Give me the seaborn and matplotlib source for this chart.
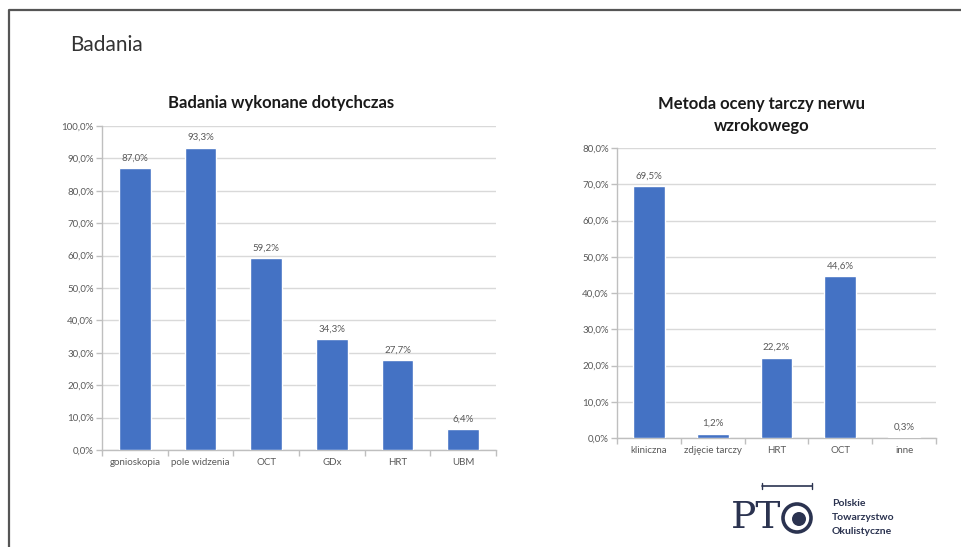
import matplotlib
matplotlib.use("Agg")
import matplotlib.pyplot as plt
from matplotlib.patches import Circle
from matplotlib.ticker import FixedLocator, FuncFormatter
import seaborn as sns
import pandas as pd

# Data
tests_categories = ["gonioskopia", "pole widzenia", "OCT", "GDx", "HRT", "UBM"]
tests_values = [87.0, 93.3, 59.2, 34.3, 27.7, 6.4]

disc_categories = ["kliniczna", "zdjęcie tarczy", "HRT", "OCT", "inne"]
disc_values = [69.5, 1.2, 22.2, 44.6, 0.3]

BLUE = "#4472C4"
GRID = "#d9d9d9"
AXIS = "#bfbfbf"
TICK_TXT = "#595959"

sns.set_theme(style="white")
plt.rcParams["font.family"] = ["Lato", "DejaVu Sans"]

W, H = 961, 547
fig = plt.figure(figsize=(W / 100, H / 100), dpi=100)
fig.patch.set_facecolor("white")


def px_axes(x0, y0, x1, y1):
    return fig.add_axes([x0 / W, 1 - y1 / H, (x1 - x0) / W, (y1 - y0) / H])


def pct(v, _=None):
    return f"{v:.1f}%".replace(".", ",")


def bar_chart(ax, cats, vals, ymax, bar_w):
    df = pd.DataFrame({"cat": cats, "val": vals})
    sns.barplot(data=df, x="cat", y="val", color=BLUE, width=bar_w,
                saturation=1, ax=ax, zorder=3)
    ax.set_ylim(0, ymax)
    ax.set_xlim(-0.5, len(cats) - 0.5)
    ax.set_xlabel("")
    ax.set_ylabel("")
    ax.yaxis.set_major_locator(FixedLocator(list(range(0, int(ymax) + 1, 10))))
    ax.yaxis.set_major_formatter(FuncFormatter(pct))
    ax.grid(axis="y", color=GRID, linewidth=1, zorder=0)
    ax.grid(axis="x", visible=False)
    for s in ("top", "right"):
        ax.spines[s].set_visible(False)
    for s in ("left", "bottom"):
        ax.spines[s].set_color(AXIS)
        ax.spines[s].set_linewidth(1)
    ax.tick_params(axis="y", which="major", length=4, width=1, color=AXIS,
                   labelsize=7, labelcolor=TICK_TXT, pad=2, left=True)
    ax.tick_params(axis="x", which="major", length=0, labelsize=7,
                   labelcolor=TICK_TXT, pad=6)
    ax.set_xticks([i - 0.5 for i in range(len(cats) + 1)], minor=True)
    ax.tick_params(axis="x", which="minor", length=4, width=1, color=AXIS,
                   bottom=True)
    for c in ax.containers:
        ax.bar_label(c, labels=[pct(v) for v in vals], padding=4,
                     fontsize=7, color=TICK_TXT)


# Left chart
ax1 = px_axes(102, 126, 496, 450)
bar_chart(ax1, tests_categories, tests_values, 100, 0.48)
fig.text(281 / W, 1 - 103 / H, "Badania wykonane dotychczas", ha="center",
         va="center", fontsize=12, fontweight="bold", color="#1a1a1a")

# Right chart
ax2 = px_axes(617, 148, 936, 438)
bar_chart(ax2, disc_categories, disc_values, 80, 0.5)
fig.text(762 / W, 1 - 115 / H, "Metoda oceny tarczy nerwu\nwzrokowego",
         ha="center", va="center", fontsize=12, fontweight="bold",
         color="#1a1a1a", linespacing=1.5)

# Slide heading
fig.text(70 / W, 1 - 45 / H, "Badania", ha="left", va="center",
         fontsize=15, fontweight="normal", color="#333333")

# Slide frame
frame = fig.add_axes([0, 0, 1, 1], zorder=-1)
frame.set_xlim(0, W)
frame.set_ylim(H, 0)
frame.axis("off")
frame.plot([9, 9, W], [H, 10, 10], color="#555555", linewidth=1.6,
           solid_capstyle="butt")

# Society logo
logo = fig.add_axes([0, 0, 1, 1], zorder=5)
logo.set_xlim(0, W)
logo.set_ylim(H, 0)
logo.axis("off")
NAVY = "#2b3350"
logo.text(731, 518, "PT", fontsize=27, family="DejaVu Serif", color=NAVY,
          ha="left", va="center")
logo.plot([762, 812], [486, 486], color=NAVY, linewidth=1.2)
logo.plot([762, 762], [483, 489], color=NAVY, linewidth=1.0)
logo.plot([812, 812], [483, 489], color=NAVY, linewidth=1.0)
logo.add_patch(Circle((797, 518), 14, fill=False, edgecolor=NAVY, linewidth=2.6))
logo.add_patch(Circle((799, 519), 7, facecolor=NAVY, edgecolor="none"))
for i, line in enumerate(["Polskie", "Towarzystwo", "Okulistyczne"]):
    logo.text(832, 503 + i * 14, line, fontsize=7.5, fontweight="bold",
              color=NAVY, ha="left", va="center")

fig.savefig("out.png", dpi=100, facecolor="white")
